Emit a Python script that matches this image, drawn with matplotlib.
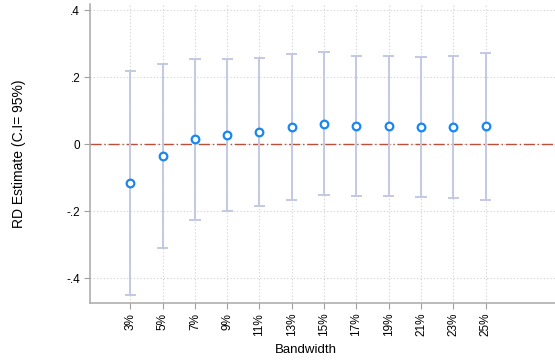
import numpy as np
import matplotlib.pyplot as plt

plt.rcParams["font.family"] = ["Liberation Sans", "DejaVu Sans"]

bandwidth = [3, 5, 7, 9, 11, 13, 15, 17, 19, 21, 23, 25]
labels = ["3%", "5%", "7%", "9%", "11%", "13%", "15%", "17%", "19%", "21%", "23%", "25%"]
estimate = [-0.117, -0.036, 0.015, 0.027, 0.036, 0.051, 0.060, 0.054, 0.053, 0.051, 0.050, 0.053]
ci_upper = [0.220, 0.240, 0.255, 0.255, 0.258, 0.268, 0.274, 0.263, 0.262, 0.260, 0.262, 0.272]
ci_lower = [-0.451, -0.310, -0.226, -0.200, -0.186, -0.167, -0.151, -0.155, -0.155, -0.158, -0.162, -0.166]

fig = plt.figure(figsize=(5.55, 3.6), dpi=100)
ax = fig.add_axes([0.162, 0.158, 0.838, 0.832])

ax.grid(True, linestyle=(0, (1, 2)), color="#d0d0d0", linewidth=0.8)
ax.set_axisbelow(True)

ax.axhline(0, color="#b8503a", linestyle=(0, (8, 2, 1, 2)), linewidth=1.0, zorder=1)

x = np.array(bandwidth)
lo = np.array(ci_lower)
hi = np.array(ci_upper)
ax.vlines(x, lo, hi, color="#c3c8e6", linewidth=1.4, zorder=2)
ax.hlines(lo, x - 0.35, x + 0.35, color="#c3c8e6", linewidth=1.4, zorder=2)
ax.hlines(hi, x - 0.35, x + 0.35, color="#c3c8e6", linewidth=1.4, zorder=2)
ax.plot(x, estimate, "o", markerfacecolor="white", markeredgecolor="#1a86f0",
        markeredgewidth=1.6, markersize=5.5, linestyle="none", zorder=3)

ax.set_xlim(0.5, 29.3)
ax.set_ylim(-0.475, 0.42)
ax.set_xticks(bandwidth)
ax.set_xticklabels(labels, rotation=90, fontsize=8.5)
ax.set_yticks([-0.4, -0.2, 0, 0.2, 0.4])
ax.set_yticklabels(["-.4", "-.2", "0", ".2", ".4"], fontsize=8.5)
ax.tick_params(axis="both", length=4, color="#a0a0a0", pad=3)

for s in ["top", "right"]:
    ax.spines[s].set_visible(False)
for s in ["left", "bottom"]:
    ax.spines[s].set_color("#a8a8a8")
    ax.spines[s].set_linewidth(1.1)

ax.set_xlabel("Bandwidth", fontsize=9.5)
ax.xaxis.set_label_coords(0.465, -0.135)
ax.set_ylabel("RD Estimate (C.I= 95%)", fontsize=10)
ax.yaxis.set_label_coords(-0.137, 0.5)

fig.savefig("out.png", dpi=100)
